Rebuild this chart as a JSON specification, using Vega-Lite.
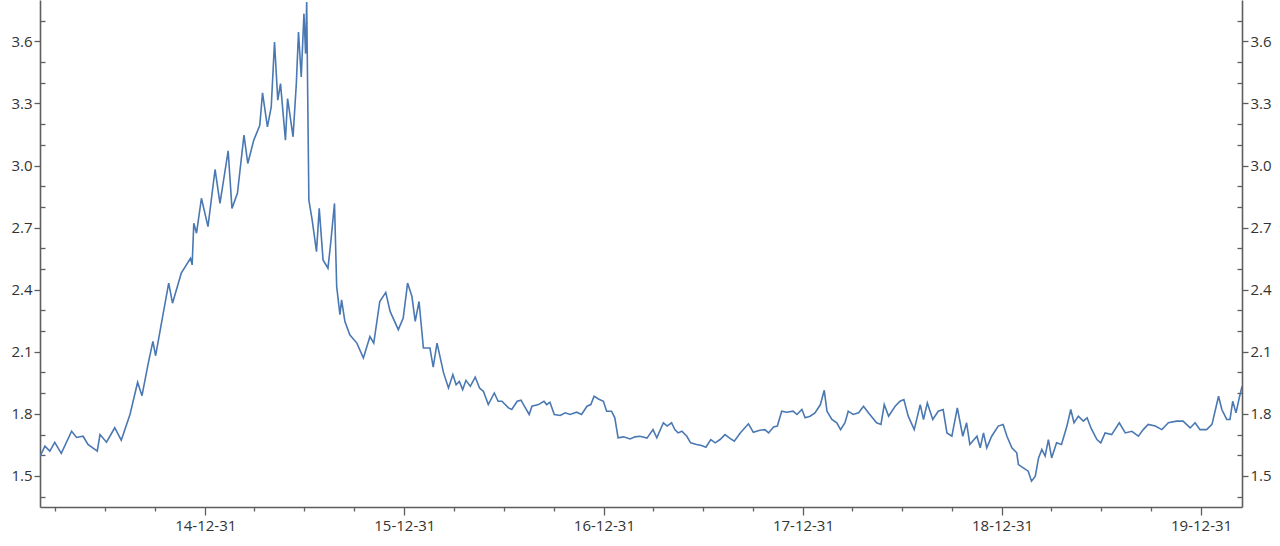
{
  "$schema": "https://vega.github.io/schema/vega-lite/v6.json",
  "width": 1202,
  "height": 507,
  "autosize": {"type": "none"},
  "padding": {"left": 40, "top": 0, "right": 38, "bottom": 39},
  "background": "white",
  "config": {
    "view": {"stroke": null},
    "axis": {
      "grid": false,
      "domainColor": "#5e5e5e",
      "domainWidth": 1.6,
      "tickColor": "#5e5e5e",
      "tickWidth": 1.3,
      "labelColor": "#333333",
      "labelFont": "Open Sans",
      "labelFontSize": 15,
      "title": null
    }
  },
  "data": {
    "values": [
      {"date": "2014-03-03", "v": 1.594}, {"date": "2014-03-12", "v": 1.644}, {"date": "2014-03-21", "v": 1.620},
      {"date": "2014-03-30", "v": 1.662}, {"date": "2014-04-11", "v": 1.609}, {"date": "2014-04-30", "v": 1.716},
      {"date": "2014-05-09", "v": 1.686}, {"date": "2014-05-21", "v": 1.692}, {"date": "2014-05-30", "v": 1.652},
      {"date": "2014-06-16", "v": 1.620}, {"date": "2014-06-21", "v": 1.700}, {"date": "2014-07-03", "v": 1.663},
      {"date": "2014-07-18", "v": 1.733}, {"date": "2014-07-30", "v": 1.673}, {"date": "2014-08-15", "v": 1.797},
      {"date": "2014-08-29", "v": 1.953}, {"date": "2014-09-06", "v": 1.888}, {"date": "2014-09-17", "v": 2.038},
      {"date": "2014-09-26", "v": 2.150}, {"date": "2014-10-01", "v": 2.081}, {"date": "2014-10-15", "v": 2.287},
      {"date": "2014-10-25", "v": 2.432}, {"date": "2014-11-01", "v": 2.335}, {"date": "2014-11-17", "v": 2.480},
      {"date": "2014-12-04", "v": 2.552}, {"date": "2014-12-07", "v": 2.520}, {"date": "2014-12-10", "v": 2.721},
      {"date": "2014-12-15", "v": 2.673}, {"date": "2014-12-24", "v": 2.842}, {"date": "2015-01-05", "v": 2.705},
      {"date": "2015-01-18", "v": 2.981}, {"date": "2015-01-27", "v": 2.817}, {"date": "2015-02-11", "v": 3.071},
      {"date": "2015-02-18", "v": 2.793}, {"date": "2015-02-28", "v": 2.866}, {"date": "2015-03-12", "v": 3.147},
      {"date": "2015-03-19", "v": 3.010}, {"date": "2015-03-30", "v": 3.123}, {"date": "2015-04-10", "v": 3.195},
      {"date": "2015-04-15", "v": 3.351}, {"date": "2015-04-24", "v": 3.187}, {"date": "2015-05-01", "v": 3.283},
      {"date": "2015-05-07", "v": 3.597}, {"date": "2015-05-13", "v": 3.316}, {"date": "2015-05-18", "v": 3.396},
      {"date": "2015-05-27", "v": 3.123}, {"date": "2015-05-31", "v": 3.324}, {"date": "2015-06-10", "v": 3.139},
      {"date": "2015-06-16", "v": 3.396}, {"date": "2015-06-20", "v": 3.645}, {"date": "2015-06-25", "v": 3.428},
      {"date": "2015-06-30", "v": 3.734}, {"date": "2015-07-03", "v": 3.541}, {"date": "2015-07-05", "v": 3.790},
      {"date": "2015-07-09", "v": 2.833}, {"date": "2015-07-15", "v": 2.737}, {"date": "2015-07-23", "v": 2.584},
      {"date": "2015-07-28", "v": 2.793}, {"date": "2015-08-04", "v": 2.544}, {"date": "2015-08-13", "v": 2.504},
      {"date": "2015-08-18", "v": 2.625}, {"date": "2015-08-25", "v": 2.817}, {"date": "2015-08-29", "v": 2.415},
      {"date": "2015-09-04", "v": 2.279}, {"date": "2015-09-07", "v": 2.351}, {"date": "2015-09-13", "v": 2.247},
      {"date": "2015-09-22", "v": 2.182}, {"date": "2015-10-05", "v": 2.142}, {"date": "2015-10-17", "v": 2.070},
      {"date": "2015-10-29", "v": 2.174}, {"date": "2015-11-05", "v": 2.142}, {"date": "2015-11-16", "v": 2.343},
      {"date": "2015-11-27", "v": 2.387}, {"date": "2015-12-05", "v": 2.295}, {"date": "2015-12-20", "v": 2.207},
      {"date": "2015-12-29", "v": 2.263}, {"date": "2016-01-06", "v": 2.432}, {"date": "2016-01-14", "v": 2.367},
      {"date": "2016-01-20", "v": 2.247}, {"date": "2016-01-27", "v": 2.343}, {"date": "2016-02-04", "v": 2.118},
      {"date": "2016-02-16", "v": 2.118}, {"date": "2016-02-22", "v": 2.026}, {"date": "2016-02-29", "v": 2.142},
      {"date": "2016-03-12", "v": 1.998}, {"date": "2016-03-21", "v": 1.925}, {"date": "2016-03-29", "v": 1.990},
      {"date": "2016-04-04", "v": 1.941}, {"date": "2016-04-10", "v": 1.957}, {"date": "2016-04-16", "v": 1.917},
      {"date": "2016-04-22", "v": 1.962}, {"date": "2016-04-30", "v": 1.933}, {"date": "2016-05-09", "v": 1.978},
      {"date": "2016-05-17", "v": 1.925}, {"date": "2016-05-24", "v": 1.909}, {"date": "2016-06-02", "v": 1.845},
      {"date": "2016-06-13", "v": 1.901}, {"date": "2016-06-20", "v": 1.861}, {"date": "2016-06-27", "v": 1.861},
      {"date": "2016-07-09", "v": 1.829}, {"date": "2016-07-15", "v": 1.821}, {"date": "2016-07-25", "v": 1.861},
      {"date": "2016-08-01", "v": 1.866}, {"date": "2016-08-09", "v": 1.829}, {"date": "2016-08-16", "v": 1.797},
      {"date": "2016-08-21", "v": 1.837}, {"date": "2016-09-02", "v": 1.845}, {"date": "2016-09-12", "v": 1.861},
      {"date": "2016-09-17", "v": 1.845}, {"date": "2016-09-23", "v": 1.856}, {"date": "2016-10-01", "v": 1.797},
      {"date": "2016-10-12", "v": 1.792}, {"date": "2016-10-21", "v": 1.805}, {"date": "2016-10-30", "v": 1.797},
      {"date": "2016-11-11", "v": 1.808}, {"date": "2016-11-20", "v": 1.797}, {"date": "2016-11-30", "v": 1.837},
      {"date": "2016-12-07", "v": 1.845}, {"date": "2016-12-13", "v": 1.885}, {"date": "2016-12-21", "v": 1.872},
      {"date": "2016-12-30", "v": 1.861}, {"date": "2017-01-05", "v": 1.813}, {"date": "2017-01-14", "v": 1.813},
      {"date": "2017-01-20", "v": 1.781}, {"date": "2017-01-26", "v": 1.684}, {"date": "2017-02-05", "v": 1.689},
      {"date": "2017-02-17", "v": 1.679}, {"date": "2017-02-26", "v": 1.689}, {"date": "2017-03-07", "v": 1.692},
      {"date": "2017-03-20", "v": 1.683}, {"date": "2017-03-31", "v": 1.724}, {"date": "2017-04-07", "v": 1.684},
      {"date": "2017-04-19", "v": 1.757}, {"date": "2017-04-26", "v": 1.741}, {"date": "2017-05-04", "v": 1.757},
      {"date": "2017-05-10", "v": 1.724}, {"date": "2017-05-16", "v": 1.708}, {"date": "2017-05-23", "v": 1.716},
      {"date": "2017-06-01", "v": 1.692}, {"date": "2017-06-08", "v": 1.660}, {"date": "2017-06-19", "v": 1.652},
      {"date": "2017-06-28", "v": 1.647}, {"date": "2017-07-06", "v": 1.639}, {"date": "2017-07-15", "v": 1.676},
      {"date": "2017-07-23", "v": 1.660}, {"date": "2017-08-01", "v": 1.676}, {"date": "2017-08-10", "v": 1.700},
      {"date": "2017-08-18", "v": 1.684}, {"date": "2017-08-27", "v": 1.668}, {"date": "2017-09-07", "v": 1.708},
      {"date": "2017-09-22", "v": 1.752}, {"date": "2017-10-01", "v": 1.711}, {"date": "2017-10-13", "v": 1.721},
      {"date": "2017-10-22", "v": 1.724}, {"date": "2017-10-29", "v": 1.708}, {"date": "2017-11-07", "v": 1.737},
      {"date": "2017-11-14", "v": 1.741}, {"date": "2017-11-22", "v": 1.813}, {"date": "2017-12-01", "v": 1.808},
      {"date": "2017-12-13", "v": 1.813}, {"date": "2017-12-20", "v": 1.797}, {"date": "2017-12-29", "v": 1.821},
      {"date": "2018-01-04", "v": 1.781}, {"date": "2018-01-13", "v": 1.789}, {"date": "2018-01-22", "v": 1.805},
      {"date": "2018-02-01", "v": 1.845}, {"date": "2018-02-08", "v": 1.914}, {"date": "2018-02-13", "v": 1.813},
      {"date": "2018-02-22", "v": 1.773}, {"date": "2018-03-03", "v": 1.757}, {"date": "2018-03-10", "v": 1.724},
      {"date": "2018-03-18", "v": 1.757}, {"date": "2018-03-24", "v": 1.813}, {"date": "2018-04-02", "v": 1.797},
      {"date": "2018-04-12", "v": 1.805}, {"date": "2018-04-21", "v": 1.837}, {"date": "2018-04-30", "v": 1.805},
      {"date": "2018-05-15", "v": 1.757}, {"date": "2018-05-23", "v": 1.749}, {"date": "2018-05-29", "v": 1.845},
      {"date": "2018-06-06", "v": 1.789}, {"date": "2018-06-18", "v": 1.837}, {"date": "2018-06-27", "v": 1.861},
      {"date": "2018-07-04", "v": 1.869}, {"date": "2018-07-12", "v": 1.789}, {"date": "2018-07-23", "v": 1.724},
      {"date": "2018-08-03", "v": 1.845}, {"date": "2018-08-09", "v": 1.773}, {"date": "2018-08-16", "v": 1.853},
      {"date": "2018-08-26", "v": 1.773}, {"date": "2018-09-05", "v": 1.813}, {"date": "2018-09-14", "v": 1.821},
      {"date": "2018-09-21", "v": 1.708}, {"date": "2018-09-30", "v": 1.692}, {"date": "2018-10-10", "v": 1.829},
      {"date": "2018-10-20", "v": 1.692}, {"date": "2018-10-27", "v": 1.757}, {"date": "2018-11-02", "v": 1.652},
      {"date": "2018-11-15", "v": 1.692}, {"date": "2018-11-21", "v": 1.636}, {"date": "2018-11-27", "v": 1.708},
      {"date": "2018-12-03", "v": 1.636}, {"date": "2018-12-12", "v": 1.692}, {"date": "2018-12-24", "v": 1.741},
      {"date": "2019-01-02", "v": 1.749}, {"date": "2019-01-09", "v": 1.692}, {"date": "2019-01-18", "v": 1.636},
      {"date": "2019-01-27", "v": 1.612}, {"date": "2019-01-30", "v": 1.555}, {"date": "2019-02-08", "v": 1.539},
      {"date": "2019-02-17", "v": 1.523}, {"date": "2019-02-23", "v": 1.475}, {"date": "2019-03-02", "v": 1.499},
      {"date": "2019-03-08", "v": 1.587}, {"date": "2019-03-14", "v": 1.628}, {"date": "2019-03-20", "v": 1.596},
      {"date": "2019-03-26", "v": 1.676}, {"date": "2019-04-01", "v": 1.587}, {"date": "2019-04-10", "v": 1.660},
      {"date": "2019-04-19", "v": 1.652}, {"date": "2019-04-29", "v": 1.741}, {"date": "2019-05-06", "v": 1.821},
      {"date": "2019-05-12", "v": 1.757}, {"date": "2019-05-20", "v": 1.789}, {"date": "2019-05-29", "v": 1.765},
      {"date": "2019-06-05", "v": 1.781}, {"date": "2019-06-12", "v": 1.732}, {"date": "2019-06-23", "v": 1.676},
      {"date": "2019-06-30", "v": 1.660}, {"date": "2019-07-08", "v": 1.708}, {"date": "2019-07-20", "v": 1.700},
      {"date": "2019-08-03", "v": 1.757}, {"date": "2019-08-14", "v": 1.708}, {"date": "2019-08-26", "v": 1.716},
      {"date": "2019-09-07", "v": 1.692}, {"date": "2019-09-16", "v": 1.724}, {"date": "2019-09-25", "v": 1.749},
      {"date": "2019-10-08", "v": 1.741}, {"date": "2019-10-20", "v": 1.724}, {"date": "2019-11-01", "v": 1.757},
      {"date": "2019-11-16", "v": 1.765}, {"date": "2019-11-28", "v": 1.765}, {"date": "2019-12-11", "v": 1.732},
      {"date": "2019-12-20", "v": 1.757}, {"date": "2019-12-29", "v": 1.724}, {"date": "2020-01-10", "v": 1.724},
      {"date": "2020-01-20", "v": 1.749}, {"date": "2020-02-01", "v": 1.885}, {"date": "2020-02-07", "v": 1.821},
      {"date": "2020-02-16", "v": 1.773}, {"date": "2020-02-22", "v": 1.773}, {"date": "2020-02-27", "v": 1.861},
      {"date": "2020-03-04", "v": 1.805}, {"date": "2020-03-10", "v": 1.877}, {"date": "2020-03-15", "v": 1.933}
    ]
  },
  "layer": [
    {
      "mark": {"type": "line", "color": "#4a78b2", "strokeWidth": 1.6, "clip": true},
      "encoding": {
        "x": {
          "field": "date", "type": "temporal",
          "scale": {"type": "utc", "domain": [{"year": 2014, "month": 3, "date": 3, "utc": true}, {"year": 2020, "month": 3, "date": 15, "utc": true}]},
          "axis": {
            "orient": "bottom", "format": "%y-%m-%d", "tickSize": 8, "labelPadding": 3,
            "values": [
              {"year": 2014, "month": 12, "date": 31, "utc": true},
              {"year": 2015, "month": 12, "date": 31, "utc": true},
              {"year": 2016, "month": 12, "date": 31, "utc": true},
              {"year": 2017, "month": 12, "date": 31, "utc": true},
              {"year": 2018, "month": 12, "date": 31, "utc": true},
              {"year": 2019, "month": 12, "date": 31, "utc": true}
            ]
          }
        },
        "y": {
          "field": "v", "type": "quantitative",
          "scale": {"domain": [1.35, 3.8], "nice": false, "zero": false},
          "axis": {"orient": "left", "values": [1.5, 1.8, 2.1, 2.4, 2.7, 3.0, 3.3, 3.6], "format": ".1f", "tickSize": 6, "labelPadding": 2}
        }
      }
    },
    {
      "mark": {"type": "line", "strokeOpacity": 0},
      "encoding": {
        "x": {
          "field": "date", "type": "temporal",
          "axis": {
            "orient": "bottom", "labels": false, "tickSize": 4, "domain": false,
            "values": [
              {"year": 2014, "month": 3, "date": 31, "utc": true}, {"year": 2014, "month": 6, "date": 30, "utc": true}, {"year": 2014, "month": 9, "date": 30, "utc": true},
              {"year": 2015, "month": 3, "date": 31, "utc": true}, {"year": 2015, "month": 6, "date": 30, "utc": true}, {"year": 2015, "month": 9, "date": 30, "utc": true},
              {"year": 2016, "month": 3, "date": 31, "utc": true}, {"year": 2016, "month": 6, "date": 30, "utc": true}, {"year": 2016, "month": 9, "date": 30, "utc": true},
              {"year": 2017, "month": 3, "date": 31, "utc": true}, {"year": 2017, "month": 6, "date": 30, "utc": true}, {"year": 2017, "month": 9, "date": 30, "utc": true},
              {"year": 2018, "month": 3, "date": 31, "utc": true}, {"year": 2018, "month": 6, "date": 30, "utc": true}, {"year": 2018, "month": 9, "date": 30, "utc": true},
              {"year": 2019, "month": 3, "date": 31, "utc": true}, {"year": 2019, "month": 6, "date": 30, "utc": true}, {"year": 2019, "month": 9, "date": 30, "utc": true}
            ]
          }
        },
        "y": {
          "field": "v", "type": "quantitative",
          "axis": {"orient": "left", "labels": false, "domain": false, "tickSize": -5,
            "values": [1.4, 1.6, 1.7, 1.9, 2.0, 2.2, 2.3, 2.5, 2.6, 2.8, 2.9, 3.1, 3.2, 3.4, 3.5, 3.7]}
        }
      }
    },
    {
      "mark": {"type": "line", "strokeOpacity": 0},
      "encoding": {
        "x": {"field": "date", "type": "temporal", "axis": null},
        "y": {
          "field": "v", "type": "quantitative",
          "axis": {"orient": "right", "values": [1.5, 1.8, 2.1, 2.4, 2.7, 3.0, 3.3, 3.6], "format": ".1f", "tickSize": 6, "labelPadding": 2}
        }
      }
    },
    {
      "mark": {"type": "line", "strokeOpacity": 0},
      "encoding": {
        "x": {"field": "date", "type": "temporal", "axis": null},
        "y": {
          "field": "v", "type": "quantitative",
          "axis": {"orient": "right", "labels": false, "domain": false, "tickSize": -5,
            "values": [1.4, 1.6, 1.7, 1.9, 2.0, 2.2, 2.3, 2.5, 2.6, 2.8, 2.9, 3.1, 3.2, 3.4, 3.5, 3.7]}
        }
      }
    }
  ],
  "resolve": {"axis": {"x": "independent", "y": "independent"}}
}
